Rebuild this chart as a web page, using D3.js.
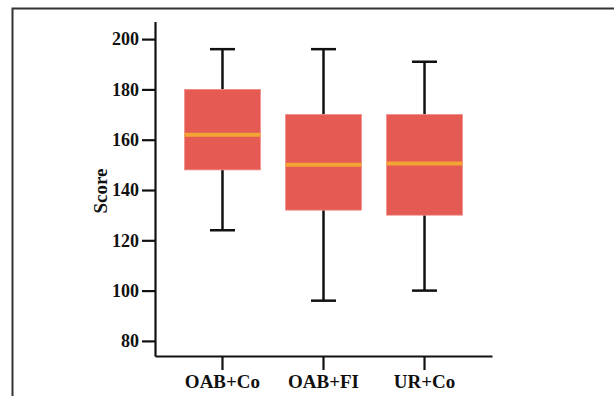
<!DOCTYPE html>
<html>
<head>
<meta charset="utf-8">
<script src="https://cdn.jsdelivr.net/npm/d3@7"></script>
<style>
  html, body { margin: 0; padding: 0; background: #fff; }
  svg { display: block; }
</style>
</head>
<body>
<script>
// Score distribution per group
const groups   = ["OAB+Co", "OAB+FI", "UR+Co"];
const whiskLow = [124, 96, 100];
const q1       = [148, 132, 130];
const medians  = [162, 150, 150.5];
const q3       = [180, 170, 170];
const whiskHigh= [196, 196, 191];
const yTicks   = [80, 100, 120, 140, 160, 180, 200];

const W = 614, H = 396;
const svg = d3.select("body").append("svg").attr("width", W).attr("height", H);

// panel frame (top and left edges)
svg.append("path")
  .attr("d", `M12.5,${H} V8.5 H${W}`)
  .attr("fill", "none").attr("stroke", "#333").attr("stroke-width", 2);

const x = d3.scaleBand().domain(groups).range([155, 492]).paddingInner(0.25).paddingOuter(0.293);
const y = d3.scaleLinear().domain([74, 207]).range([356, 21.5]);

const font = "'Liberation Serif', 'Times New Roman', serif";

// y axis
const yAxis = svg.append("g").attr("transform", "translate(155,0)")
  .call(d3.axisLeft(y).tickValues(yTicks).tickSize(13).tickPadding(3).tickSizeOuter(0));
// x axis
const xAxis = svg.append("g").attr("transform", "translate(0,356)")
  .call(d3.axisBottom(x).tickSize(14).tickPadding(5).tickSizeOuter(0));

[yAxis, xAxis].forEach(a => {
  a.selectAll("path.domain, line").attr("stroke", "#111").attr("stroke-width", 2.2);
  a.selectAll("text").attr("fill", "#111").attr("font-family", font)
    .attr("font-weight", "bold");
});
yAxis.selectAll("text").attr("font-size", 18);
xAxis.selectAll("text").attr("font-size", 19);

svg.append("text")
  .attr("transform", "translate(107,191) rotate(-90)")
  .attr("text-anchor", "middle")
  .attr("font-family", font).attr("font-weight", "bold").attr("font-size", 19)
  .attr("fill", "#111").text("Score");

const bw = x.bandwidth();
const capW = 25;
const g = svg.append("g");

groups.forEach((grp, i) => {
  const cx = x(grp) + bw / 2;
  // whiskers
  g.append("line").attr("x1", cx).attr("x2", cx).attr("y1", y(whiskHigh[i])).attr("y2", y(q3[i]))
    .attr("stroke", "#111").attr("stroke-width", 2.5);
  g.append("line").attr("x1", cx).attr("x2", cx).attr("y1", y(q1[i])).attr("y2", y(whiskLow[i]))
    .attr("stroke", "#111").attr("stroke-width", 2.5);
  // caps
  [whiskHigh[i], whiskLow[i]].forEach(v => {
    g.append("line").attr("x1", cx - capW / 2).attr("x2", cx + capW / 2)
      .attr("y1", y(v)).attr("y2", y(v)).attr("stroke", "#111").attr("stroke-width", 2.5);
  });
  // box
  g.append("rect").attr("x", x(grp)).attr("width", bw)
    .attr("y", y(q3[i])).attr("height", y(q1[i]) - y(q3[i]))
    .attr("fill", "#E55A52").attr("stroke", "#F08A84").attr("stroke-width", 0.8);
  // median
  g.append("line").attr("x1", x(grp)).attr("x2", x(grp) + bw)
    .attr("y1", y(medians[i])).attr("y2", y(medians[i]))
    .attr("stroke", "#F2A435").attr("stroke-width", 4);
});
</script>
</body>
</html>
